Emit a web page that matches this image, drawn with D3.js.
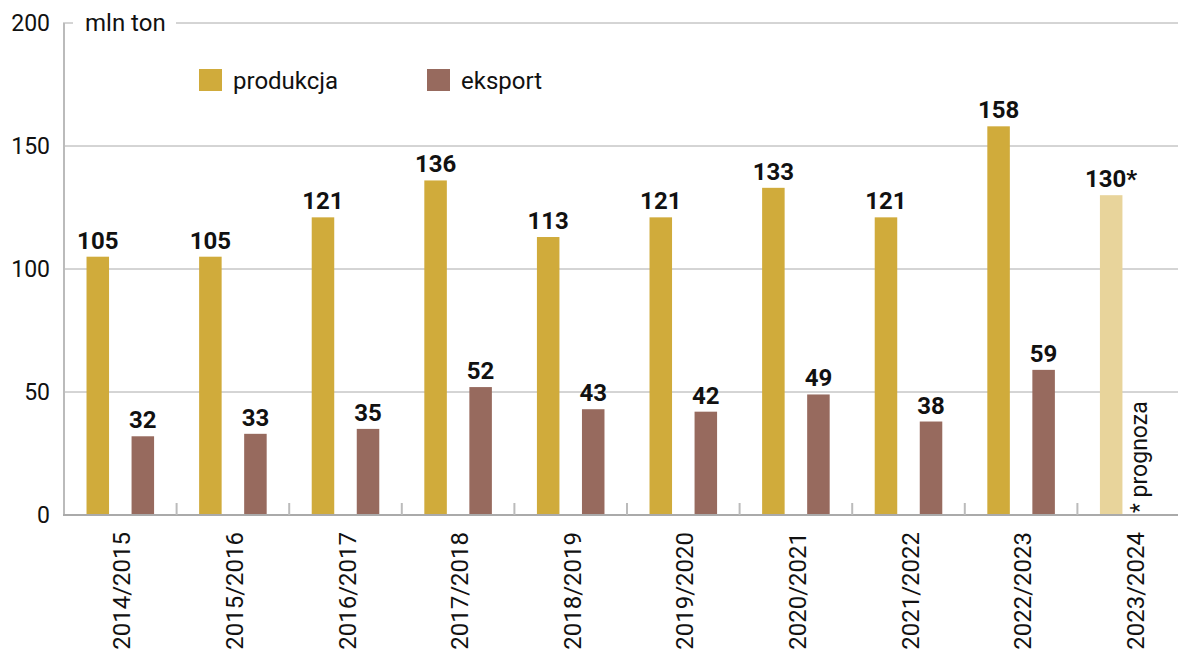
<!DOCTYPE html>
<html>
<head>
<meta charset="utf-8">
<script src="https://cdn.jsdelivr.net/npm/d3@7"></script>
<style>
  body { margin: 0; background: #fff; }
  svg { font-family: Roboto, sans-serif; display: block; }
</style>
</head>
<body>
<svg id="chart"></svg>
<script>
  var seasons = ["2014/2015", "2015/2016", "2016/2017", "2017/2018", "2018/2019",
    "2019/2020", "2020/2021", "2021/2022", "2022/2023", "2023/2024"];
  var produkcja = [105, 105, 121, 136, 113, 121, 133, 121, 158, 130];
  var eksport = [32, 33, 35, 52, 43, 42, 49, 38, 59, null];
  var forecastIndex = 9;
  var yTicks = [0, 50, 100, 150, 200];

  var width = 1178,
    height = 651;

  var chart = d3.select("#chart")
    .attr("width", width)
    .attr("height", height);

  var x = d3.scaleBand()
    .domain(seasons)
    .range([64, 1190]);

  var y = d3.scaleLinear()
    .domain([0, 200])
    .range([515, 23]);

  var bw = x.bandwidth() / 5;

  // gridlines
  chart.append("g")
    .selectAll("line")
    .data(yTicks.filter(function(d) { return d > 0; }))
    .enter().append("line")
    .attr("x1", function(d) { return d === 200 ? 176 : 64; })
    .attr("x2", width)
    .attr("y1", function(d) { return y(d); })
    .attr("y2", function(d) { return y(d); })
    .attr("stroke", "#aaa")
    .attr("stroke-width", 1);

  chart.append("line")
    .attr("x1", 63).attr("x2", 73)
    .attr("y1", y(200)).attr("y2", y(200))
    .attr("stroke", "#aaa");

  // y labels
  chart.append("g")
    .selectAll("text")
    .data(yTicks)
    .enter().append("text")
    .attr("x", 50)
    .attr("y", function(d) { return y(d) + 8; })
    .attr("text-anchor", "end")
    .attr("font-size", 23)
    .attr("fill", "#111")
    .text(function(d) { return d; });

  chart.append("text")
    .attr("x", 85)
    .attr("y", 31)
    .attr("font-size", 24)
    .attr("fill", "#111")
    .text("mln ton");

  // bars
  chart.append("g")
    .selectAll("rect")
    .data(produkcja)
    .enter().append("rect")
    .attr("x", function(d, i) { return x(seasons[i]) + bw; })
    .attr("y", function(d) { return y(d); })
    .attr("width", bw)
    .attr("height", function(d) { return y(0) - y(d); })
    .attr("fill", function(d, i) { return i === forecastIndex ? "#e8d49b" : "#d0ab3b"; });

  chart.append("g")
    .selectAll("rect")
    .data(eksport)
    .enter().filter(function(d) { return d != null; }).append("rect")
    .attr("x", function(d, i) { return x(seasons[i]) + 3 * bw; })
    .attr("y", function(d) { return y(d); })
    .attr("width", bw)
    .attr("height", function(d) { return y(0) - y(d); })
    .attr("fill", "#976a5e");

  // value labels
  chart.append("g")
    .selectAll("text")
    .data(produkcja)
    .enter().append("text")
    .attr("x", function(d, i) { return x(seasons[i]) + 1.5 * bw; })
    .attr("y", function(d) { return y(d) - 8; })
    .attr("text-anchor", "middle")
    .attr("font-size", 24)
    .attr("font-weight", "bold")
    .attr("fill", "#111")
    .text(function(d, i) { return i === forecastIndex ? d + "*" : d; });

  chart.append("g")
    .selectAll("text")
    .data(eksport)
    .enter().filter(function(d) { return d != null; }).append("text")
    .attr("x", function(d, i) { return x(seasons[i]) + 3.5 * bw; })
    .attr("y", function(d) { return y(d) - 8; })
    .attr("text-anchor", "middle")
    .attr("font-size", 24)
    .attr("font-weight", "bold")
    .attr("fill", "#111")
    .text(function(d) { return d; });

  // axes lines
  chart.append("line")
    .attr("x1", 64).attr("x2", 64)
    .attr("y1", y(200)).attr("y2", y(0))
    .attr("stroke", "#bbb")
    .attr("stroke-width", 2);

  chart.append("line")
    .attr("x1", 63).attr("x2", width)
    .attr("y1", y(0)).attr("y2", y(0))
    .attr("stroke", "#aaa")
    .attr("stroke-width", 2);

  chart.append("g")
    .selectAll("line")
    .data(seasons.slice(1))
    .enter().append("line")
    .attr("x1", function(d) { return x(d); })
    .attr("x2", function(d) { return x(d); })
    .attr("y1", y(0) - 12)
    .attr("y2", y(0))
    .attr("stroke", "#bbb")
    .attr("stroke-width", 2);

  // x labels
  chart.append("g")
    .selectAll("text")
    .data(seasons)
    .enter().append("text")
    .attr("transform", function(d) {
      return "translate(" + (x(d) + x.bandwidth() / 2 + 10) + ",532) rotate(-90)";
    })
    .attr("text-anchor", "end")
    .attr("font-size", 24)
    .attr("fill", "#111")
    .text(function(d) { return d; });

  chart.append("text")
    .attr("transform", "translate(1147,513) rotate(-90)")
    .attr("font-size", 23)
    .attr("fill", "#111")
    .text("* prognoza");

  // legend
  var legend = [
    { label: "produkcja", color: "#d0ab3b", x: 199 },
    { label: "eksport", color: "#976a5e", x: 427 }
  ];
  var lg = chart.append("g")
    .selectAll("g")
    .data(legend)
    .enter().append("g");
  lg.append("rect")
    .attr("x", function(d) { return d.x; })
    .attr("y", 69)
    .attr("width", 23)
    .attr("height", 22)
    .attr("fill", function(d) { return d.color; });
  lg.append("text")
    .attr("x", function(d) { return d.x + 34; })
    .attr("y", 89)
    .attr("font-size", 24)
    .attr("fill", "#111")
    .text(function(d) { return d.label; });
</script>
</body>
</html>
